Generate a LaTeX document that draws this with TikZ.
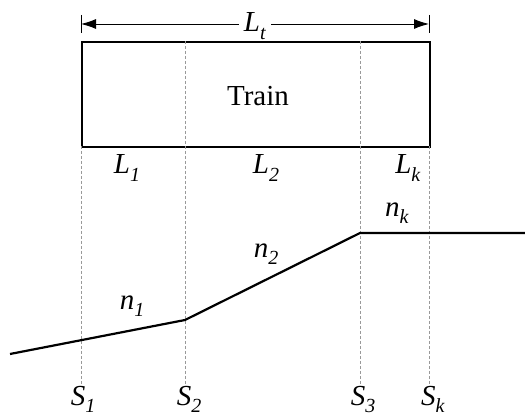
\documentclass[tikz,border=0pt]{standalone}
\usepackage{fontspec}
\setmainfont{Liberation Serif}
\usetikzlibrary{arrows.meta}
\newcommand{\vsym}[2]{\textit{#1}\raisebox{-0.26em}{\fontsize{20}{20}\selectfont\textit{#2}}}
\tikzset{
  lbl/.style={inner sep=1pt, font=\fontsize{29}{29}\selectfont},
  guide/.style={draw=gray!80, line width=0.7pt, dash pattern=on 3pt off 2pt},
  body/.style={draw=black, line width=1.8pt},
  grade/.style={draw=black, line width=2.2pt, line join=miter},
  dim/.style={draw=black, line width=0.9pt}
}
\begin{document}
\begin{tikzpicture}[x=1pt,y=-1pt]
\useasboundingbox (0,0) rectangle (525,419);
% train box
\node[body, minimum width=348pt, minimum height=105pt, inner sep=0pt, anchor=north west] (train) at (81,41) {};
\node[lbl] (tlabel) at (258,96) {Train};
% guide coordinates
\coordinate (g1t) at (81,146); \coordinate (g1b) at (81,387);
\coordinate (g2t) at (185,41); \coordinate (g2b) at (185,387);
\coordinate (g3t) at (360,41); \coordinate (g3b) at (360,387);
\coordinate (g4t) at (429,146); \coordinate (g4b) at (429,387);
\draw[guide] (g1t) -- (g1b);
\draw[guide] (g2t) -- (g2b);
\draw[guide] (g3t) -- (g3b);
\draw[guide] (g4t) -- (g4b);
% dimension Lt
\coordinate (ta) at (81,15); \coordinate (tb) at (81,33);
\coordinate (tc) at (429,15); \coordinate (td) at (429,33);
\coordinate (la) at (81,24); \coordinate (lb) at (429,24);
\draw[dim] (ta) -- (tb);
\draw[dim] (tc) -- (td);
\draw[dim, {Latex[length=15pt,width=10pt]}-{Latex[length=15pt,width=10pt]}] (la) -- (lb);
\node[lbl, fill=white, inner xsep=5pt, inner ysep=0pt] (Lt) at (255,26) {\vsym{L}{t}};
% L labels
\node[lbl] (L1) at (127,168) {\vsym{L}{1}};
\node[lbl] (L2) at (266,168) {\vsym{L}{2}};
\node[lbl] (Lk) at (408,168) {\vsym{L}{k}};
% grade profile
\coordinate (p0) at (10,354);
\coordinate (p1) at (185,320);
\coordinate (p2) at (360,233);
\coordinate (p3) at (525,233);
\draw[grade] (p0) -- (p1) -- (p2) -- (p3);
\node[lbl] (n1) at (132,306) {\vsym{n}{1}};
\node[lbl] (n2) at (266,254) {\vsym{n}{2}};
\node[lbl] (nk) at (397,213) {\vsym{n}{k}};
% S labels
\node[lbl, anchor=south] (S1) at (83,414) {\vsym{S}{1}};
\node[lbl, anchor=south] (S2) at (189,414) {\vsym{S}{2}};
\node[lbl, anchor=south] (S3) at (363,414) {\vsym{S}{3}};
\node[lbl, anchor=south] (Sk) at (433,414) {\vsym{S}{k}};
\end{tikzpicture}
\end{document}
